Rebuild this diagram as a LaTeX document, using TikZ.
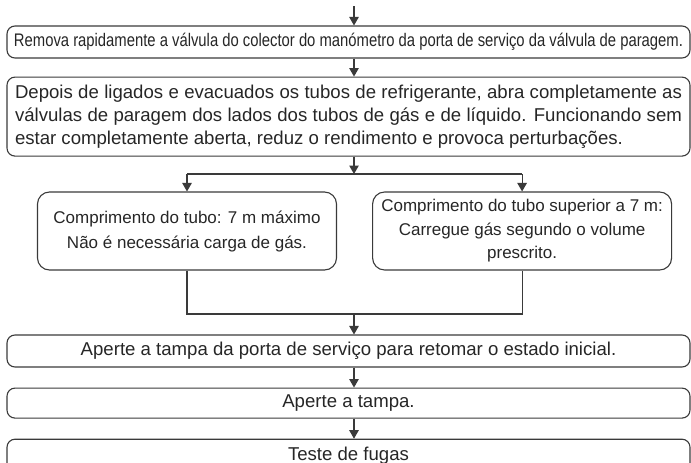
\documentclass[tikz,border=0pt]{standalone}
\usepackage{fontspec}
\setmainfont{Liberation Sans}
\usepackage{graphicx}
\usetikzlibrary{arrows.meta, positioning, calc}

\definecolor{linegray}{HTML}{3A3A3A}
\definecolor{textgray}{HTML}{262626}

\begin{document}
\begin{tikzpicture}[
    x=1pt, y=1pt,
    line width=1.1pt,
    base/.style={draw=linegray, text=textgray, align=center, inner sep=0pt,
        font=\fontsize{18.6}{22.7}\selectfont},
    wide/.style={base, rounded corners=8pt, minimum width=683pt},
    side/.style={base, rounded corners=12pt, minimum width=299pt, minimum height=78pt,
        font=\fontsize{17}{23.5}\selectfont},
    >={Triangle[length=8.5pt, width=9.5pt]}
]
    \useasboundingbox (0,0) rectangle (691,-463);

    % main column of steps
    \node[wide, minimum height=32pt] (remove) at (348.5,-42)
        {\resizebox{669pt}{\height}{\fontsize{18.2}{18}\selectfont Remova rapidamente a válvula do colector do manómetro da porta de serviço da válvula de paragem.}};
    \node[wide, minimum height=79pt, below=18pt of remove, text width=667pt, align=justify] (open)
        {Depois de ligados e evacuados os tubos de refrigerante, abra completamente as\linebreak
         válvulas de paragem dos lados dos tubos de gás e de líquido. Funcionando sem\linebreak
         estar completamente aberta, reduz o rendimento e provoca perturbações.};

    % the two cases
    \node[side] (short) at (187,-231)
        {\raisebox{-4pt}{\begin{tabular}{@{}c@{}}Comprimento do tubo: 7 m máximo\\[1.5pt]Não é necessária carga de gás.\end{tabular}}};
    \node[side, right=35pt of short] (long)
        {Comprimento do tubo superior a 7 m:\\Carregue gás segundo o volume\\prescrito.};

    \node[wide, minimum height=32pt] (cap) at (348.5,-351)
        {Aperte a tampa da porta de serviço para retomar o estado inicial.};
    \node[wide, minimum height=30pt, below=20pt of cap] (tighten) {Aperte a tampa.};
    \node[wide, minimum height=32pt, below=20pt of tighten] (leak) {Teste de fugas};

    % connectors
    \coordinate (start) at (354,-6);
    \coordinate (fork) at (354,-174);
    \coordinate (join) at (354,-314);

    \draw[linegray, ->] (start) -- (remove.north -| start);
    \draw[linegray, ->] (remove.south -| start) -- (open.north -| start);
    \draw[linegray, ->] (open.south -| fork) -- (fork);
    \draw[linegray] (short.north |- fork) -- (long.north |- fork);
    \draw[linegray, ->] (short.north |- fork) -- (short.north);
    \draw[linegray, ->] (long.north |- fork) -- (long.north);
    \draw[linegray] (short.south) -- (short.south |- join) -- (long.south |- join) -- (long.south);
    \draw[linegray, ->] (join) -- (cap.north -| join);
    \draw[linegray, ->] (cap.south -| join) -- (tighten.north -| join);
    \draw[linegray, ->] (tighten.south -| join) -- (leak.north -| join);
\end{tikzpicture}
\end{document}
